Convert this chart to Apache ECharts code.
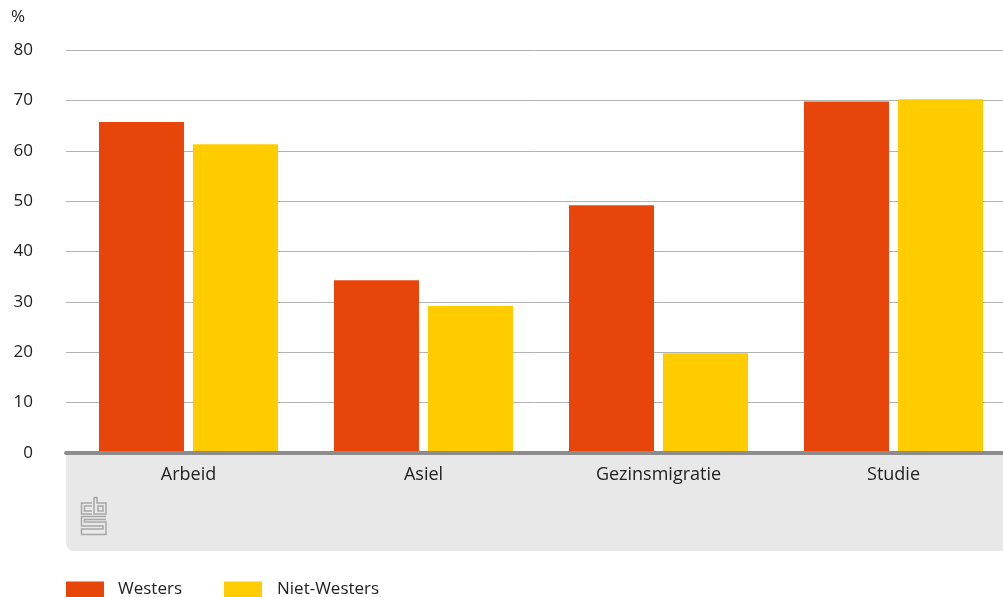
<!DOCTYPE html>
<html>
<head>
<meta charset="utf-8">
<script src="https://cdn.jsdelivr.net/npm/echarts@6/dist/echarts.min.js"></script>
<style>
  html, body { margin: 0; padding: 0; background: #fff; overflow: hidden; }
  #chart { width: 1011px; height: 597px; }
</style>
</head>
<body>
<div id="chart"></div>
<script>
// categorieen en waarden (%)
var categories = ['Arbeid', 'Asiel', 'Gezinsmigratie', 'Studie'];
var westers = [65.7, 34.3, 49.2, 69.8];
var nietWesters = [61.3, 29.2, 19.8, 70.2];
var seriesNames = ['Westers', 'Niet-Westers'];
var colors = ['#e8450b', '#ffcc00'];

var myChart = echarts.init(document.getElementById('chart'));
var fontFam = '"Open Sans", "Noto Sans", sans-serif';

// cbs logo, grof nagetekend
function logo() {
    var s = { stroke: '#a6a6a6', lineWidth: 1.5, fill: null };
    return {
        type: 'group', x: 81, y: 497, z: 5,
        children: [
            { type: 'polyline', shape: { points: [[11, 6], [0.5, 6], [0.5, 17], [11, 17]] }, style: s },
            { type: 'polyline', shape: { points: [[11, 9], [3.5, 9], [3.5, 14], [11, 14]] }, style: s },
            { type: 'polyline', shape: { points: [[13, 0.5], [13, 17], [25, 17], [25, 6], [16, 6], [16, 0.5], [13, 0.5]] }, style: s },
            { type: 'rect', shape: { x: 17, y: 9, width: 5, height: 5 }, style: s },
            { type: 'polyline', shape: { points: [[25, 19.5], [0.5, 19.5], [0.5, 29], [22, 29], [22, 32], [0.5, 32], [0.5, 37.5], [25, 37.5], [25, 25], [3.5, 25], [3.5, 22.5], [25, 22.5]] }, style: s }
        ]
    };
}

var option = {
    animation: false,
    textStyle: { fontFamily: fontFam },
    graphic: [
        { type: 'rect', z: -10, shape: { x: 66, y: 453, width: 945, height: 98, r: [0, 0, 0, 8] }, style: { fill: '#e8e8e8' } },
        { type: 'text', left: 11, top: 9, style: { text: '%', fontSize: 17, fill: '#222', fontFamily: fontFam } },
        logo()
    ],
    grid: [
        { left: 66, width: 937, top: 50, height: 403 },
        { left: 71, width: 940, top: 50, height: 403 }
    ],
    legend: [
        { left: 66, top: 581, padding: 0, data: ['Westers'], itemWidth: 38, itemHeight: 16, icon: 'rect',
          textStyle: { fontSize: 17, lineHeight: 16, color: '#222', padding: [0, 0, 0, 9] } },
        { left: 224, top: 581, padding: 0, data: ['Niet-Westers'], itemWidth: 38, itemHeight: 16, icon: 'rect',
          textStyle: { fontSize: 17, lineHeight: 16, color: '#222', padding: [0, 0, 0, 10] } }
    ],
    xAxis: [
        {
            gridIndex: 0, type: 'category', data: categories, z: 10,
            axisLine: { lineStyle: { color: '#8c8c8c', width: 4 } },
            axisTick: { show: false }, axisLabel: { show: false }
        },
        {
            gridIndex: 1, type: 'category', data: categories,
            axisLine: { show: false }, axisTick: { show: false },
            axisLabel: { fontSize: 18, color: '#222', margin: 13 }
        }
    ],
    yAxis: [
        {
            gridIndex: 0, type: 'value', min: 0, max: 80, interval: 10,
            axisLine: { show: false }, axisTick: { show: false },
            axisLabel: { fontSize: 17, color: '#222', align: 'right', margin: 33 },
            splitLine: { lineStyle: { color: '#b3b3b3', width: 1 } }
        },
        {
            gridIndex: 1, type: 'value', min: 0, max: 80, interval: 10, show: false,
            splitLine: { show: false }
        }
    ],
    series: [
        { name: seriesNames[0], type: 'bar', xAxisIndex: 1, yAxisIndex: 1, data: westers,
          barWidth: 85, barGap: '10.6%', itemStyle: { color: colors[0] } },
        { name: seriesNames[1], type: 'bar', xAxisIndex: 1, yAxisIndex: 1, data: nietWesters,
          barWidth: 85, barGap: '10.6%', itemStyle: { color: colors[1] } }
    ]
};
myChart.setOption(option);
</script>
</body>
</html>
